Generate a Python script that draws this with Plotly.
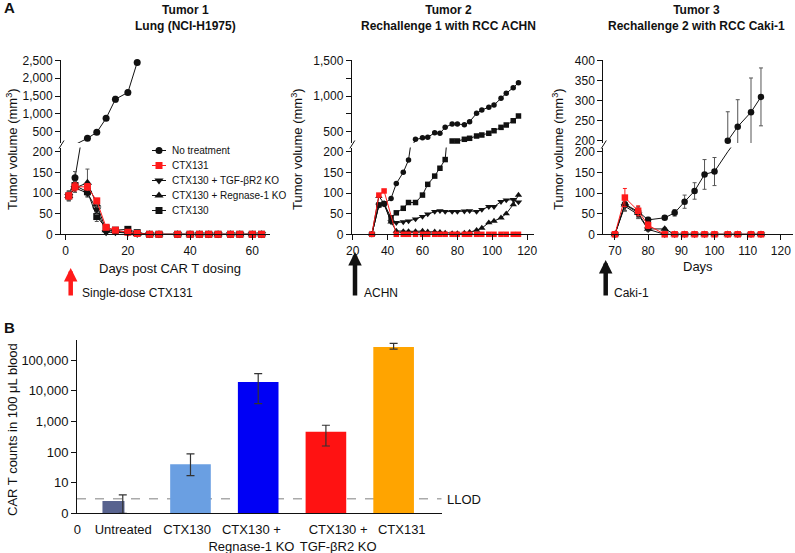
import plotly.graph_objects as go

W, H = 795, 553


def fx(p):
    return p / W


def fy(p):
    return 1 - p / H


BLACK = "#111111"
RED = "#ff1a1a"
GREY_ERR = "#555555"
FONT = "Liberation Sans, Arial, Helvetica, sans-serif"

# ---------------- DATA ----------------
series_names = {
    "nt": "No treatment",
    "ctx131": "CTX131",
    "tgf": "CTX130 + TGF-βR2 KO",
    "reg": "CTX130 + Regnase-1 KO",
    "ctx130": "CTX130",
}

# Tumor 1: Lung (NCI-H1975)
t1_days_nt = [1, 3, 7, 10, 13, 16, 20, 23]
t1_nt = [93, 137, 315, 483, 875, 1410, 1600, 2440]
t1_nt_err = [12, 15, 0, 0, 0, 80, 60, 0]

t1_days = [1, 3, 7, 10, 13, 16, 20, 23, 27, 30, 36, 40, 43, 46, 49, 53, 56, 60, 63]
t1_ctx131 = [93, 115, 115, 81, 17, 10, 5, 2, 0, 0, 0, 0, 0, 0, 0, 0, 0, 0, 0]
t1_ctx131_err = [8, 10, 8, 6, 3, 2, 1, 0, 0, 0, 0, 0, 0, 0, 0, 0, 0, 0, 0]
t1_tgf = [93, 112, 100, 60, 5, 5, 3, 1, 0, 0, 0, 0, 0, 0, 0, 0, 0, 0, 0]
t1_tgf_err = [10, 10, 10, 12, 3, 2, 1, 0, 0, 0, 0, 0, 0, 0, 0, 0, 0, 0, 0]
t1_reg = [93, 112, 125, 72, 10, 8, 4, 1, 0, 0, 0, 0, 0, 0, 0, 0, 0, 0, 0]
t1_reg_err = [10, 10, 33, 12, 4, 3, 2, 0, 0, 0, 0, 0, 0, 0, 0, 0, 0, 0, 0]
t1_ctx130 = [93, 118, 103, 43, 15, 10, 12, 4, 0, 0, 0, 0, 0, 0, 0, 0, 0, 0, 0]
t1_ctx130_err = [12, 10, 8, 12, 5, 3, 3, 1, 0, 0, 0, 0, 0, 0, 0, 0, 0, 0, 0]

# Tumor 2: Rechallenge 1 with RCC ACHN
t2_days = [31, 35, 38, 42, 45, 49, 52, 56, 60, 63, 67, 70, 73, 77, 80, 84, 87, 91, 94, 98, 101, 105, 108, 112, 115]
t2_nt = [0, 71, 74, 87, 123, 150, 180, 394, 414, 421, 486, 478, 561, 608, 608, 598, 640, 757, 804, 842, 874, 968, 1038, 1116, 1186]
t2_ctx130 = [0, 71, 74, 40, 52, 63, 77, 77, 95, 121, 141, 160, 181, 370, 370, 394, 408, 440, 454, 478, 514, 561, 594, 654, 720]
t2_tgf = [0, 70, 73, 30, 28, 30, 32, 37, 43, 49, 55, 57, 55, 55, 55, 56, 57, 55, 60, 67, 67, 79, 83, 84, 78]
t2_reg = [0, 92, 75, 30, 8, 7, 7, 7, 8, 6, 6, 5, 3, 2, 2, 3, 5, 10, 15, 28, 32, 40, 50, 72, 95]
t2_days_ctx131 = [31, 35, 38, 45, 49, 52, 56, 60, 63, 67, 70, 73, 77, 80, 84, 87, 91, 94, 98, 101, 105, 108, 112, 115]
t2_ctx131 = [0, 95, 105, 0, 0, 0, 0, 0, 0, 0, 0, 0, 0, 0, 0, 0, 0, 0, 0, 0, 0, 0, 0, 0]

# Tumor 3: Rechallenge 2 with RCC Caki-1
t3_days = [70, 73, 77, 80, 85, 88, 91, 94, 97, 100, 104, 107, 111, 114]
t3_nt = [0, 73, 55, 35, 40, 52, 79, 105, 145, 152, 200, 235, 271, 309]
t3_nt_err = [0, 15, 12, 6, 4, 8, 16, 20, 36, 34, 72, 67, 85, 72]
t3_ctx131 = [0, 89, 57, 22, 0, 0, 0, 0, 0, 0, 0, 0, 0, 0]
t3_ctx131_err = [0, 22, 12, 8, 0, 0, 0, 0, 0, 0, 0, 0, 0, 0]
t3_reg = [0, 72, 52, 13, 13, 0, 0, 0, 0, 0, 0, 0, 0, 0]
t3_reg_err = [0, 15, 12, 5, 3, 0, 0, 0, 0, 0, 0, 0, 0, 0]
t3_tgf = [0, 68, 48, 12, 0, 0, 0, 0, 0, 0, 0, 0, 0, 0]
t3_tgf_err = [0, 12, 10, 4, 0, 0, 0, 0, 0, 0, 0, 0, 0, 0]

# Panel B: CAR T counts in 100 uL blood
b_categories = ["Untreated", "CTX130", "CTX130 +<br>Regnase-1 KO", "CTX130 +<br>TGF-βR2 KO", "CTX131"]
b_values = [2.5, 40, 19500, 465, 272000]
b_err_high = [4, 87, 36500, 750, 357000]
b_err_low = [1, 17, 3800, 158, 229000]
LLOD = 3
b_ticks = [1, 10, 100, 1000, 10000, 100000]
b_ticktext = ["0", "10", "100", "1,000", "10,000", "100,000"]

# ---------------- STYLE ----------------
STY = {
    "nt": dict(symbol="circle", color=BLACK),
    "ctx131": dict(symbol="square", color=RED),
    "tgf": dict(symbol="triangle-down", color=BLACK),
    "reg": dict(symbol="triangle-up", color=BLACK),
    "ctx130": dict(symbol="square", color=BLACK),
}

fig = go.Figure()


def add_series(days, vals, errs, key, xa, ya_lo, ya_up, split, msize, ecolor=None):
    st = STY[key]
    color = st["color"]
    ecol = ecolor or color
    tri = st["symbol"].startswith("triangle")
    for ya, cond in ((ya_lo, lambda v: v < split), (ya_up, lambda v: v >= split)):
        fig.add_trace(go.Scatter(x=days, y=vals, mode="lines", line=dict(color=color, width=1),
                                 xaxis=xa, yaxis=ya, showlegend=False, hoverinfo="skip"))
        idx = [i for i, v in enumerate(vals) if cond(v)]
        if not idx:
            continue
        d = [days[i] for i in idx]
        v = [vals[i] for i in idx]
        if errs is not None:
            err = dict(type="data", array=[errs[i] for i in idx], visible=True,
                       color=ecol, thickness=1, width=2)
        else:
            err = dict(visible=False)
        fig.add_trace(go.Scatter(x=d, y=v, mode="markers",
                                 marker=dict(symbol=st["symbol"], size=msize + (1 if tri else 0),
                                             color=color, line=dict(width=0)),
                                 error_y=err, cliponaxis=False, xaxis=xa, yaxis=ya,
                                 showlegend=False, hoverinfo="skip"))


# Tumor 1 (x, y lower, y2 upper)
S1 = 183.5
add_series(t1_days_nt, t1_nt, t1_nt_err, "nt", "x", "y", "y2", S1, 7, GREY_ERR)
add_series(t1_days, t1_ctx130, t1_ctx130_err, "ctx130", "x", "y", "y2", S1, 7, GREY_ERR)
add_series(t1_days, t1_reg, t1_reg_err, "reg", "x", "y", "y2", S1, 7, GREY_ERR)
add_series(t1_days, t1_tgf, t1_tgf_err, "tgf", "x", "y", "y2", S1, 7, GREY_ERR)
add_series(t1_days, t1_ctx131, t1_ctx131_err, "ctx131", "x", "y", "y2", S1, 7)

# Tumor 2 (x2, y3 lower, y4 upper)
S2 = 342
add_series(t2_days, t2_nt, None, "nt", "x2", "y3", "y4", S2, 5.5)
add_series(t2_days, t2_ctx130, None, "ctx130", "x2", "y3", "y4", S2, 5.5)
add_series(t2_days, t2_tgf, None, "tgf", "x2", "y3", "y4", S2, 5.5)
add_series(t2_days, t2_reg, None, "reg", "x2", "y3", "y4", S2, 5.5)
add_series(t2_days_ctx131, t2_ctx131, None, "ctx131", "x2", "y3", "y4", S2, 5.5)

# Tumor 3 (x3, y5 lower, y6 upper)
S3 = 194.3
add_series(t3_days, t3_nt, t3_nt_err, "nt", "x3", "y5", "y6", S3, 6.5, GREY_ERR)
add_series(t3_days, t3_tgf, t3_tgf_err, "tgf", "x3", "y5", "y6", S3, 6.5, GREY_ERR)
add_series(t3_days, t3_reg, t3_reg_err, "reg", "x3", "y5", "y6", S3, 6.5, GREY_ERR)
add_series(t3_days, t3_ctx131, t3_ctx131_err, "ctx131", "x3", "y5", "y6", S3, 6.5)

# Panel B bars
b_pos = [1, 2, 3, 4, 5]
b_width = [0.325, 0.6, 0.6, 0.6, 0.6]
b_offset = [-0.3, -0.3, -0.3, -0.3, -0.3]
b_colors = ["#58638f", "#6a9fe2", "#0000f5", "#ff1212", "#ffa400"]
b_label_pos = [0.33, 1.007, 1.95, 2.9, 4.18, 5.12]
B_XMIN, B_XMAX = 0.324, 5.71

fig.add_trace(go.Bar(x=b_pos, y=b_values, width=b_width, offset=b_offset,
                     marker=dict(color=b_colors, line=dict(width=0)),
                     xaxis="x4", yaxis="y7", showlegend=False, hoverinfo="skip"))
fig.add_trace(go.Scatter(x=b_pos, y=b_values, mode="markers",
                         marker=dict(size=1, color="rgba(0,0,0,0)"),
                         error_y=dict(type="data", symmetric=False,
                                      array=[h - v for h, v in zip(b_err_high, b_values)],
                                      arrayminus=[v - l for v, l in zip(b_values, b_err_low)],
                                      color="#333333", thickness=1.2, width=4),
                         cliponaxis=False, xaxis="x4", yaxis="y7", showlegend=False, hoverinfo="skip"))

# Manual legend (tumor 1) on an invisible pixel-space overlay axis
legend_order = ["nt", "ctx131", "tgf", "reg", "ctx130"]
LEG_X0, LEG_X1, LEG_XM, LEG_XT, LEG_Y0, LEG_DY = 152, 166, 159, 170, 150.5, 15.0
annotations = []
for i, key in enumerate(legend_order):
    ly = LEG_Y0 + LEG_DY * i
    st = STY[key]
    fig.add_trace(go.Scatter(x=[LEG_X0, LEG_X1], y=[ly, ly], mode="lines",
                             line=dict(color=st["color"], width=1), xaxis="x5", yaxis="y8",
                             showlegend=False, hoverinfo="skip"))
    fig.add_trace(go.Scatter(x=[LEG_XM], y=[ly], mode="markers",
                             marker=dict(symbol=st["symbol"], size=7 if not st["symbol"].startswith("tri") else 8,
                                         color=st["color"], line=dict(width=0)),
                             xaxis="x5", yaxis="y8", showlegend=False, hoverinfo="skip", cliponaxis=False))
    annotations.append(dict(x=fx(LEG_XT), y=fy(ly), xref="paper", yref="paper", text=series_names[key],
                            showarrow=False, xanchor="left", yanchor="middle",
                            font=dict(size=10, color=BLACK, family=FONT)))


def text(x, y, s, size=12, xanchor="center", yanchor="middle", angle=0):
    annotations.append(dict(x=fx(x), y=fy(y), xref="paper", yref="paper", text=s, showarrow=False,
                            xanchor=xanchor, yanchor=yanchor, textangle=angle,
                            font=dict(size=size, color=BLACK, family=FONT)))


text(2, 8, "<b>A</b>", 15, xanchor="left")
text(2, 327, "<b>B</b>", 15, xanchor="left")
text(185, 18, "<b>Tumor 1</b><br><b>Lung (NCI-H1975)</b>", 12)
text(448, 18, "<b>Tumor 2</b><br><b>Rechallenge 1 with RCC ACHN</b>", 12)
text(696, 18, "<b>Tumor 3</b><br><b>Rechallenge 2 with RCC Caki-1</b>", 12)
for xx in (12, 297, 558):
    text(xx, 149, "Tumor volume (mm<sup>3</sup>)", 13, angle=-90)
text(170, 268, "Days post CAR T dosing", 13)
text(698, 266, "Days", 13)
text(80, 293, "Single-dose CTX131", 12, xanchor="left")
text(362, 293, "ACHN", 12, xanchor="left")
text(612, 293, "Caki-1", 12, xanchor="left")
text(12, 430, "CAR T counts in 100 μL blood", 13, angle=-90)
text(445, 499, "LLOD", 13, xanchor="left")

for (axx, tip, tail, col) in ((70.7, 268, 297, RED), (355, 252, 297, "#111111"), (605.7, 260, 297, "#111111")):
    annotations.append(dict(x=fx(axx), y=fy(tip), xref="paper", yref="paper", ax=0, ay=tail - tip,
                            text="", showarrow=True, arrowhead=2, arrowsize=0.6, arrowwidth=4.5,
                            arrowcolor=col))

shapes = []
for axx in (61, 351.8, 603.3):
    shapes.append(dict(type="line", xref="paper", yref="paper", x0=fx(axx - 2), y0=fy(148.5),
                       x1=fx(axx + 3), y1=fy(140.5), line=dict(color=BLACK, width=1)))
# LLOD reference line, drawn beneath the bars
shapes.append(dict(type="line", xref="x4", yref="y7", x0=B_XMIN, x1=B_XMAX, y0=LLOD, y1=LLOD,
                   layer="below", line=dict(color="#aaaaaa", width=1.5, dash="dash")))

ax = dict(showline=True, linecolor=BLACK, linewidth=1, ticks="outside", ticklen=5, tickwidth=1,
          tickcolor=BLACK, showgrid=False, zeroline=False, fixedrange=True, automargin=False,
          tickfont=dict(size=12, color=BLACK, family=FONT))
low_dom = [fy(234.3), fy(147.6)]
up_dom = [fy(143), fy(60.3)]
lower_ticks = dict(tickvals=[0, 50, 100, 150, 200], range=[0, 210])

fig.update_layout(
    width=W, height=H, margin=dict(l=0, r=0, t=0, b=0, autoexpand=False),
    paper_bgcolor="white", plot_bgcolor="rgba(0,0,0,0)", showlegend=False,
    font=dict(family=FONT, color=BLACK),
    xaxis=dict(**ax, domain=[fx(61), fx(270)], range=[-1.5, 65.7], anchor="y", tickvals=[0, 20, 40, 60]),
    yaxis=dict(**ax, domain=low_dom, anchor="x", **lower_ticks),
    yaxis2=dict(**ax, domain=up_dom, anchor="x", range=[S1, 2500],
                tickvals=[500, 1000, 1500, 2000, 2500], ticktext=["500", "1,000", "1,500", "2,000", "2,500"]),
    xaxis2=dict(**ax, domain=[fx(351.8), fx(534)], range=[19.5, 123.9], anchor="y3",
                tickvals=[20, 40, 60, 80, 100, 120]),
    yaxis3=dict(**ax, domain=low_dom, anchor="x2", **lower_ticks),
    yaxis4=dict(**ax, domain=up_dom, anchor="x2", range=[S2, 1500],
                tickvals=[500, 750, 1000, 1250, 1500], ticktext=["500", "", "1,000", "", "1,500"]),
    xaxis3=dict(**ax, domain=[fx(603.3), fx(792.5)], range=[66.5, 123.5], anchor="y5",
                tickvals=[70, 80, 90, 100, 110, 120]),
    yaxis5=dict(**ax, domain=low_dom, anchor="x3", **lower_ticks),
    yaxis6=dict(**ax, domain=up_dom, anchor="x3", range=[S3, 400], tickvals=[200, 250, 300, 350, 400]),
    xaxis4=dict(showline=True, linecolor=BLACK, linewidth=1, ticks="", showgrid=False, zeroline=False,
                fixedrange=True, automargin=False, tickangle=0, ticklabelstandoff=4,
                domain=[fx(77), fx(441.7)], range=[B_XMIN, B_XMAX], anchor="y7",
                tickvals=b_label_pos, ticktext=["0"] + b_categories,
                tickfont=dict(size=13, color=BLACK, family=FONT)),
    yaxis7=dict(**{**ax, "tickfont": dict(size=13, color=BLACK, family=FONT)}, type="log",
                domain=[fy(513.3), fy(340)], range=[0, 5.66], anchor="x4",
                tickvals=b_ticks, ticktext=b_ticktext),
    xaxis5=dict(domain=[0, 1], range=[0, W], visible=False, fixedrange=True, anchor="y8", automargin=False),
    yaxis8=dict(domain=[0, 1], range=[H, 0], visible=False, fixedrange=True, anchor="x5", automargin=False),
    annotations=annotations,
    shapes=shapes,
)

fig.write_html("out.html", config={"displayModeBar": False},
               post_script="document.body.style.margin='0';document.body.style.overflow='hidden';")
